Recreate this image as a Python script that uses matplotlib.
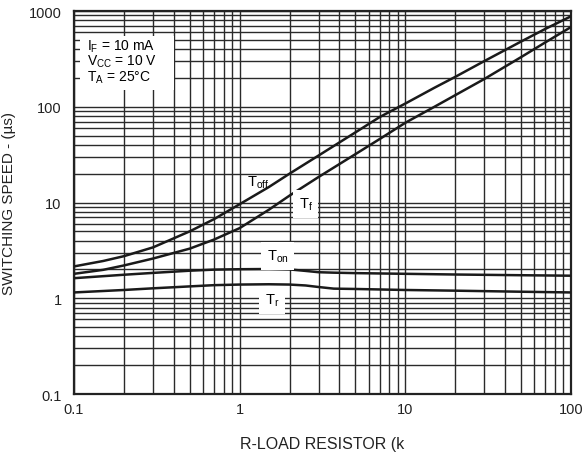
import matplotlib
matplotlib.use("Agg")
import matplotlib.pyplot as plt
from matplotlib.patches import Rectangle
from matplotlib.ticker import LogLocator, FixedLocator, FixedFormatter, NullFormatter

plt.rcParams['font.family'] = ['Liberation Sans', 'DejaVu Sans']
plt.rcParams['mathtext.default'] = 'regular'

# values (R-load in k-ohm, times in microseconds)
r_load = [0.1, 0.15, 0.2, 0.3, 0.5, 0.7, 1, 1.5, 2, 3, 5, 7, 10, 15, 20, 30, 50, 70, 100]
t_off = [2.15, 2.45, 2.75, 3.4, 5.0, 6.7, 9.6, 14.5, 20, 31, 54, 78, 108, 158, 205, 300, 480, 650, 880]
t_f = [1.8, 1.98, 2.2, 2.6, 3.3, 4.1, 5.4, 8.4, 11.8, 18.5, 32, 46, 68, 100, 132, 195, 330, 470, 680]

r_low = [0.1, 0.2, 0.3, 0.5, 0.7, 1, 1.5, 2, 2.5, 3, 3.7, 5, 10, 20, 50, 100]
t_on = [1.62, 1.76, 1.84, 1.94, 1.99, 2.01, 2.02, 2.0, 1.93, 1.87, 1.85, 1.83, 1.8, 1.77, 1.74, 1.72]
t_r = [1.15, 1.22, 1.27, 1.33, 1.37, 1.39, 1.40, 1.39, 1.36, 1.31, 1.26, 1.25, 1.22, 1.2, 1.17, 1.15]

x_ticks = [0.1, 1, 10, 100]
x_labels = ['0.1', '1', '10', '100']
y_ticks = [0.1, 1, 10, 100, 1000]
y_labels = ['0.1', '1', '10', '100', '1000']

fig = plt.figure(figsize=(5.85, 4.6), dpi=100)
ax = fig.add_axes([0.1265, 0.1413, 0.8495, 0.8326])
ax.set_xscale('log')
ax.set_yscale('log')
ax.set_xlim(0.1, 100)
ax.set_ylim(0.1, 1000)

# grid: majors and minors look the same on the datasheet
ax.xaxis.set_major_locator(FixedLocator(x_ticks))
ax.xaxis.set_major_formatter(FixedFormatter(x_labels))
ax.yaxis.set_major_locator(FixedLocator(y_ticks))
ax.yaxis.set_major_formatter(FixedFormatter(y_labels))
ax.xaxis.set_minor_locator(LogLocator(base=10, subs=range(2, 10)))
ax.yaxis.set_minor_locator(LogLocator(base=10, subs=range(2, 10)))
ax.xaxis.set_minor_formatter(NullFormatter())
ax.yaxis.set_minor_formatter(NullFormatter())
ax.grid(True, which='both', color='#2a2a2a', lw=1.0)
ax.set_axisbelow(True)
ax.tick_params(which='both', length=0, labelsize=10.5, colors='#222222')
ax.tick_params(axis='x', pad=6)
ax.tick_params(axis='y', pad=9)
for s in ax.spines.values():
    s.set_linewidth(1.6)
    s.set_color('#222222')

# curves
for y in (t_off, t_f):
    ax.plot(r_load, y, color='#1a1a1a', lw=1.8, zorder=3)
for y in (t_on, t_r):
    ax.plot(r_low, y, color='#1a1a1a', lw=1.8, zorder=3)

# curve labels
wbox = dict(facecolor='white', edgecolor='none', pad=4)
ax.text(1.29, 16.4, 'T$_{off}$', fontsize=10.5, ha='center', va='center', zorder=4)
ax.text(2.5, 9.6, 'T$_{f}$', fontsize=10.5, ha='center', va='center', bbox=wbox, zorder=4)
ax.text(1.70, 2.76, 'T$_{on}$', fontsize=10.5, ha='center', va='center', bbox=wbox, zorder=4)
ax.text(1.57, 0.96, 'T$_{r}$', fontsize=10.5, ha='center', va='center', bbox=wbox, zorder=4)

# test conditions on a white patch
ax.add_patch(Rectangle((0.012, 0.795), 0.19, 0.14, transform=ax.transAxes,
                       facecolor='white', edgecolor='none', zorder=3))
conds = ['I$_F$ = 10 mA', 'V$_{CC}$ = 10 V', 'T$_A$ = 25°C']
ypos = [0.909, 0.869, 0.827]
for t, yp in zip(conds, ypos):
    ax.text(0.026, yp, t, transform=ax.transAxes, fontsize=10, ha='left', va='center', zorder=4)

ax.set_xlabel('R-LOAD RESISTOR (k', fontsize=11.5, labelpad=14, color='#222222')
ax.set_ylabel('SWITCHING SPEED - (µs)', fontsize=11, labelpad=9, color='#222222')

fig.savefig('out.png', dpi=100)
